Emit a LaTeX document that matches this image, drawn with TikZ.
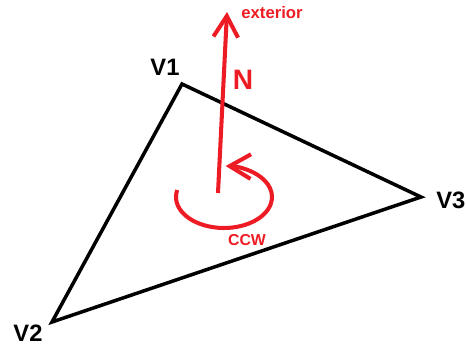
\documentclass[tikz,border=0pt]{standalone}
\usepackage{fontspec}
\setmainfont{Liberation Sans}
\usepackage{xcolor}
\usetikzlibrary{arrows.meta}
\definecolor{paintred}{RGB}{237,28,36}
\tikzset{
  edge/.style={line width=2pt,line join=miter},
  redline/.style={draw=paintred,line width=2.3pt,
    -{Straight Barb[length=12pt,width=14pt,line width=2.3pt]}},
  vlabel/.style={inner sep=0pt,font=\bfseries\fontsize{13.5}{16}\selectfont},
  rlabel/.style={inner sep=0pt,text=paintred,font=\bfseries\fontsize{9}{11}\selectfont}
}
\begin{document}
\begin{tikzpicture}
    \useasboundingbox (0,0) rectangle (9.32,6.98);
    % triangle corners
    \coordinate (v1) at (3.64,5.30);
    \coordinate (v2) at (1.04,0.54);
    \coordinate (v3) at (8.42,3.04);
    \draw[edge] (v1) -- (v2) -- (v3) -- cycle;
    \node[vlabel] (l1) at (3.30,5.64) {V1};
    \node[vlabel] (l2) at (0.56,0.32) {V2};
    \node[vlabel,anchor=west] (l3) at (8.72,2.98) {V3};
    % normal
    \coordinate (base) at (4.36,3.12);
    \coordinate (tip) at (4.54,6.74);
    \draw[redline] (base) -- (tip);
    \node[rlabel,font=\bfseries\fontsize{16}{18}\selectfont] (n) at (4.86,5.38) {N};
    \node[rlabel,font=\bfseries\fontsize{9.5}{11}\selectfont] (ext) at (5.44,6.72) {exterior};
    % turning sense
    \coordinate (turn) at (4.48,3.04);
    \draw[redline] ([shift={(167:0.96 and 0.62)}]turn)
      arc[start angle=167,end angle=448,x radius=0.96,y radius=0.62];
    \node[rlabel] (ccw) at (4.94,2.18) {CCW};
  \end{tikzpicture}
\end{document}
